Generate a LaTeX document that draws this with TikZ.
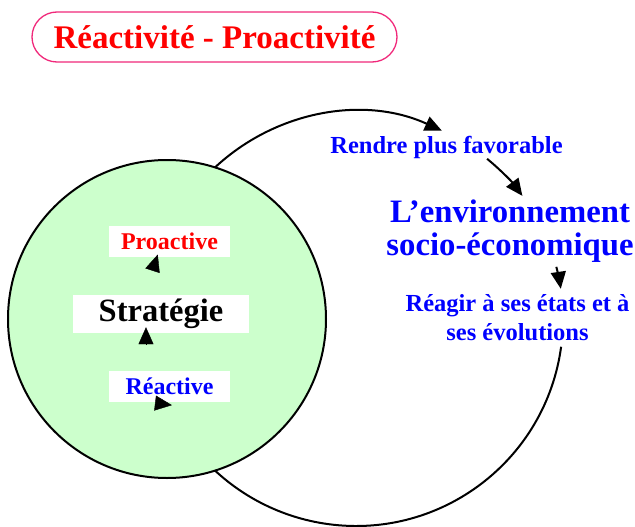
\documentclass[tikz,border=0pt]{standalone}
\usepackage{fontspec}
\setmainfont{Liberation Serif}
\usetikzlibrary{arrows.meta,calc}
\definecolor{Mint}{HTML}{CCFFCC}
\definecolor{Rose}{HTML}{F0287A}

\begin{document}
\begin{tikzpicture}[x=1pt,y=1pt,
    loopline/.style={line width=2pt},
    headtip/.style={-{Triangle[length=17pt,width=15pt]}},
    labelbox/.style={fill=white,inner sep=0pt,minimum width=121pt,minimum height=31pt,font=\bfseries\fontsize{24}{26}\selectfont},
    bluetext/.style={text=blue,align=center,font=\bfseries\fontsize{24.5}{28.5}\selectfont}]
    \useasboundingbox (0,0) rectangle (635,-527);
    \node[draw=Rose,line width=1.3pt,rounded corners=25pt,minimum width=365pt,minimum height=50pt,text=red,font=\bfseries\fontsize{33}{36}\selectfont] (title) at (214.5,-37) {Réactivité - Proactivité};
    \coordinate (ctr) at (356,-319);
    \draw[loopline,headtip] ($(ctr)+(140:207)$) arc[start angle=140,end angle=65.5,radius=207];
    \draw[loopline,headtip] ($(ctr)+(50.7:207)$) arc[start angle=50.7,end angle=36.5,radius=207];
    \draw[loopline,headtip] ($(ctr)+(14.6:207)$) arc[start angle=14.6,end angle=8.4,radius=207];
    \draw[loopline] ($(ctr)+(-7.7:207)$) arc[start angle=-7.7,end angle=-140,radius=207];
    \draw[loopline,fill=Mint] (167,-319) circle[radius=159];
    \node[bluetext,anchor=base] (favor) at (446.5,-153) {Rendre plus favorable};
    \node[bluetext,font=\bfseries\fontsize{32.7}{33}\selectfont] (envir) at (510,-231) {L’environnement\\socio-économique};
    \node[bluetext] (reagir) at (517.5,-317.5) {Réagir à ses états et à\\ses évolutions};
    \node[labelbox,text=red] (proa) at (169.5,-241) {Proactive};
    \node[labelbox,minimum width=176pt,minimum height=38pt,font=\bfseries\fontsize{32.5}{34}\selectfont] (strat) at (161,-314) {Stratégie};
    \node[labelbox,text=blue] (reac) at (169.5,-386.5) {Réactive};
    \coordinate (upA) at ($(proa.south)+(-17,-14)$);
    \coordinate (upB) at ($(strat.south)+(-15,-12)$);
    \coordinate (upC) at ($(reac.south)+(-14.4,-0.9)$);
    \draw[headtip] (upA) -- ++(72:17);
    \draw[headtip] (upB) -- ++(90:18);
    \draw[headtip] (upC) -- ++(-7:17);
\end{tikzpicture}
\end{document}
